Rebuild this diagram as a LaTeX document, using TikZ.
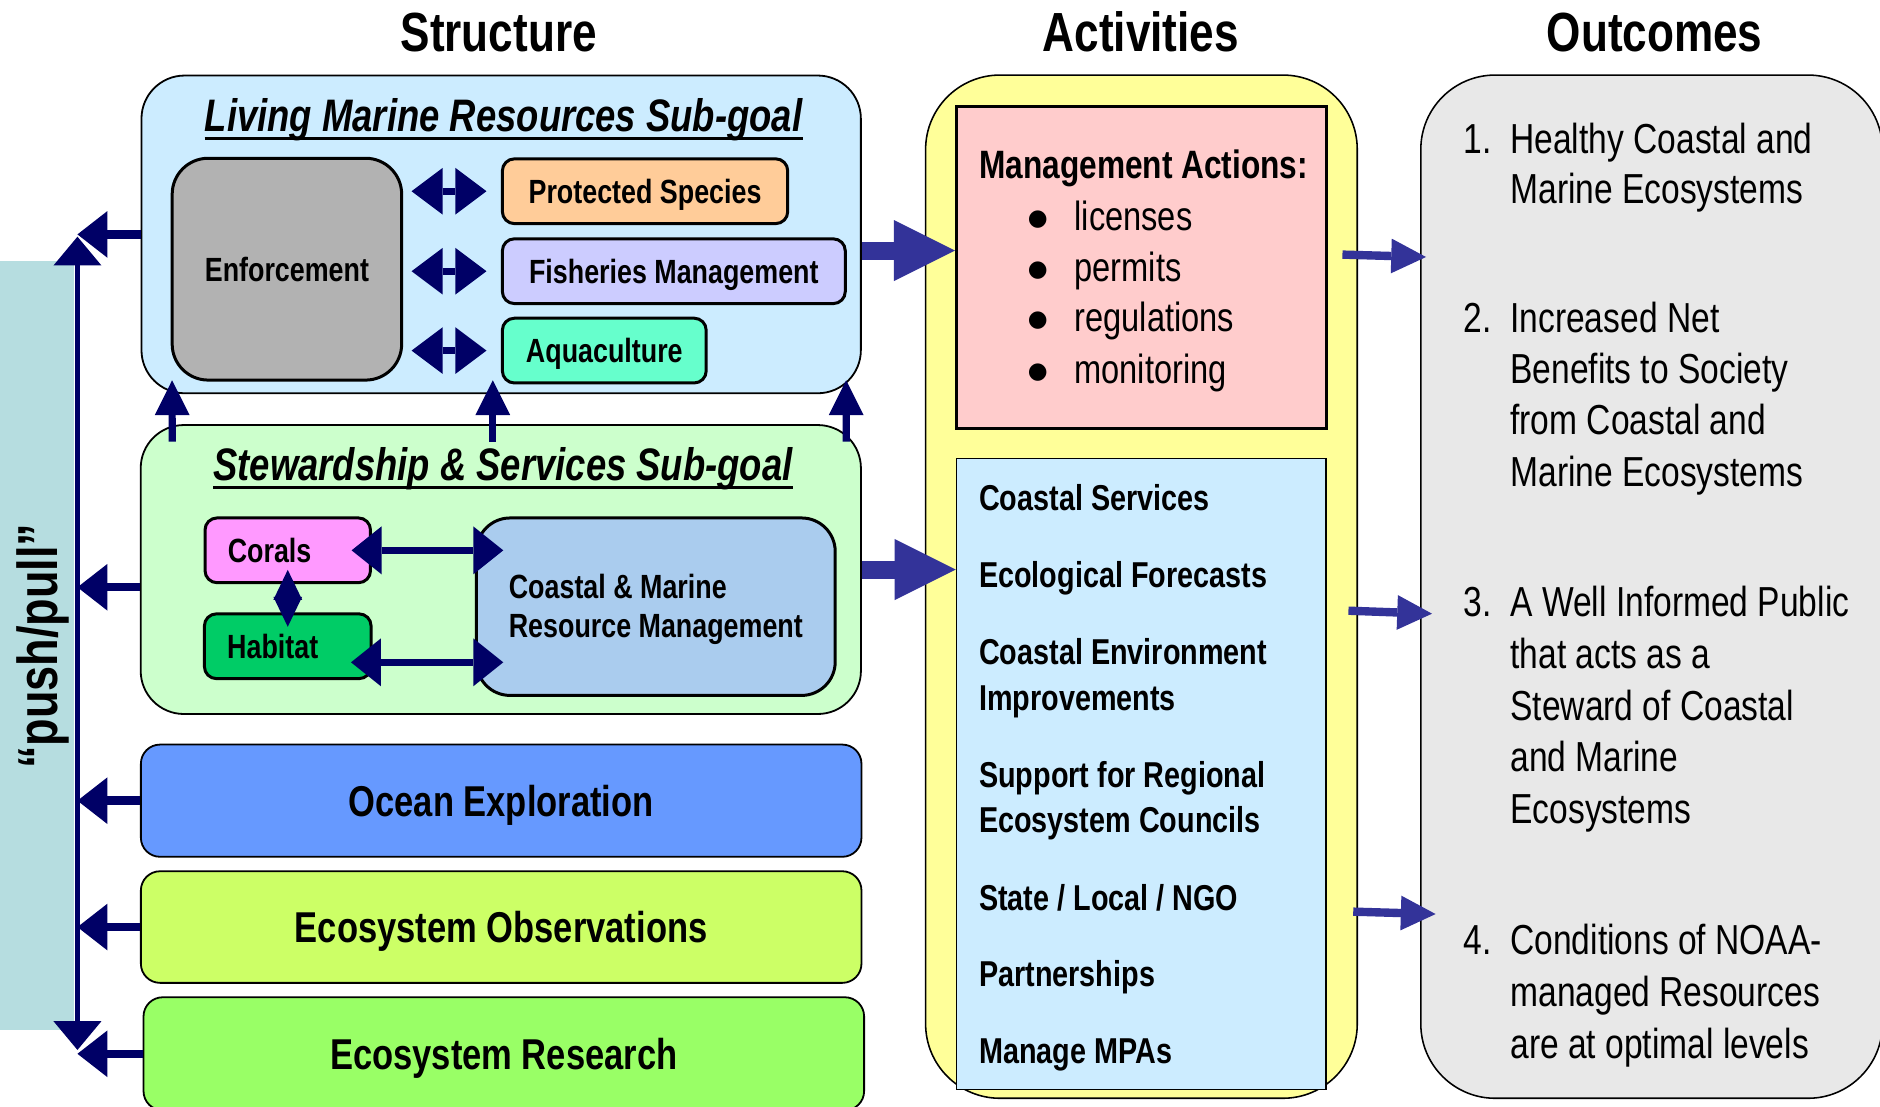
\documentclass[tikz,border=0pt]{standalone}
\usepackage{fontspec}
\setmainfont{Liberation Sans}[FakeStretch=0.8]
\newfontfamily\dotfont{DejaVu Sans}
\usetikzlibrary{arrows.meta}
\definecolor{navy}{HTML}{000066}
\definecolor{arrowblue}{HTML}{333399}
\definecolor{bandteal}{HTML}{B6DDE0}
\definecolor{lmrblue}{HTML}{CCECFF}
\definecolor{enfgray}{HTML}{B2B2B2}
\definecolor{peach}{HTML}{FFCC99}
\definecolor{lilac}{HTML}{CCCCFF}
\definecolor{aqua}{HTML}{66FFCC}
\definecolor{ssgreen}{HTML}{CCFFCC}
\definecolor{coralpink}{HTML}{FF99FF}
\definecolor{habgreen}{HTML}{00CC66}
\definecolor{steel}{HTML}{AACCEE}
\definecolor{oceanblue}{HTML}{6699FF}
\definecolor{obslime}{HTML}{CCFF66}
\definecolor{resgreen}{HTML}{99FF66}
\definecolor{actyellow}{HTML}{FFFF99}
\definecolor{mapink}{HTML}{FFCCCC}
\definecolor{outgray}{HTML}{E8E8E8}
\newcommand{\sztitle}{\fontsize{46}{55}\selectfont\bfseries}
\newcommand{\szpush}{\fontsize{47}{56}\selectfont\bfseries}
\newcommand{\szgoal}{\fontsize{38}{46}\selectfont\bfseries\itshape}
\newcommand{\sztag}{\fontsize{28}{33}\selectfont\bfseries}
\newcommand{\szbar}{\fontsize{36}{43}\selectfont\bfseries}
\newcommand{\szhead}{\fontsize{33}{40}\selectfont\bfseries}
\newcommand{\szitem}{\fontsize{30}{36}\selectfont\bfseries}
\newcommand{\szbody}{\fontsize{34}{41}\selectfont}
\newcommand{\szout}{\fontsize{35}{43}\selectfont}
\newcommand{\bul}{\makebox[39pt][l]{\raisebox{4pt}{\dotfont\fontsize{19}{19}\selectfont ●}}}
\newcommand{\num}[1]{\makebox[38.9pt][l]{#1}}
\tikzstyle{txt}=[inner sep=0pt, anchor=base west]
\tikzstyle{uline}=[draw=black, line width=2.8pt]
\tikzstyle{band}=[fill=bandteal, inner sep=0pt]
\tikzstyle{panel}=[draw=black, line width=1.5pt, rounded corners=36pt, inner sep=0pt]
\tikzstyle{block}=[draw=black, line width=2.5pt, inner sep=0pt, font=\sztag]
\tikzstyle{tag}=[block, rounded corners=10pt, minimum height=54pt, text height=20pt, text depth=0pt]
\tikzstyle{bar}=[draw=black, line width=1.5pt, rounded corners=16pt, inner sep=0pt, minimum width=601pt, font=\szbar, text height=25.8pt, text depth=0pt]
\tikzstyle{column}=[draw=black, line width=1.3pt, rounded corners=62pt, inner sep=0pt, minimum height=853.4pt]
\tikzstyle{sheet}=[draw=black, inner sep=0pt, minimum width=308.3pt]
\tikzstyle{pushpull}=[{Triangle[length=24pt,width=40pt,line width=0pt]}-{Triangle[length=24pt,width=40pt,line width=0pt]}, draw=navy, line width=3.5pt]
\tikzstyle{toline}=[-{Triangle[length=25pt,width=39pt,line width=0pt]}, draw=navy, line width=7pt]
\tikzstyle{both}=[{Triangle[length=26pt,width=39pt,line width=0pt]}-{Triangle[length=26pt,width=39pt,line width=0pt]}, draw=navy, line width=5.6pt]
\tikzstyle{twin}=[{Triangle[length=25pt,width=40pt,line width=0pt]}-{Triangle[length=25pt,width=40pt,line width=0pt]}, draw=navy, line width=5.6pt]
\tikzstyle{twinv}=[{Triangle[length=25pt,width=24pt,line width=0pt]}-{Triangle[length=25pt,width=24pt,line width=0pt]}, draw=navy, line width=5pt]
\tikzstyle{upward}=[-{Triangle[length=29pt,width=29pt,line width=0pt]}, draw=navy, line width=6pt]
\tikzstyle{feed}=[-{Triangle[length=51pt,width=51pt,line width=0pt]}, draw=arrowblue, line width=15pt]
\tikzstyle{result}=[-{Triangle[length=29pt,width=29pt,line width=0pt]}, draw=arrowblue, line width=7pt]

\begin{document}
\begin{tikzpicture}[x=1pt,y=-1pt]
  \clip (0,0) rectangle (1568,923);
  % column titles
  \node [style=txt, anchor=base, font=\sztitle] (structure) at (416,43) {Structure};
  \node [style=txt, anchor=base, font=\sztitle] (activities) at (951.5,43) {Activities};
  \node [style=txt, anchor=base, font=\sztitle] (outcomes) at (1380,43) {Outcomes};

  % push/pull band
  \node [style=band, minimum width=62pt, minimum height=641pt] (pp) at (31,538.5) {};
  \node [style=txt, anchor=center, rotate=90, font=\szpush] (pplabel) at (36,539) {“push/pull”};
  \coordinate (pptop) at (64.6,197.4);
  \coordinate (ppbot) at (64.6,875.7);

  % living marine resources
  \node [style=panel, fill=lmrblue, minimum width=600pt, minimum height=265pt] (lmr) at (418,195.5) {};
  \node [style=txt, anchor=base, font=\szgoal] (lmrtitle) at (420,109.8) {Living Marine Resources Sub-goal};
  \draw [style=uline] ([yshift=-5.6pt]lmrtitle.base west) to ([yshift=-5.6pt]lmrtitle.base east);
  \node [style=block, fill=enfgray, rounded corners=30pt, minimum width=191.4pt, minimum height=185pt, text height=20pt, text depth=0pt] (enf) at (239.3,224.5) {Enforcement};
  \node [style=tag, fill=peach, minimum width=238pt] (ps) at (538,159.5) {Protected Species};
  \node [style=tag, fill=lilac, minimum width=286pt] (fm) at (562,226.2) {Fisheries Management};
  \node [style=tag, fill=aqua, minimum width=170pt] (aq) at (504,292.4) {Aquaculture};

  % stewardship and services
  \node [style=panel, fill=ssgreen, minimum width=600.7pt, minimum height=241pt] (ss) at (417.7,475) {};
  \node [style=txt, anchor=base, font=\szgoal] (sstitle) at (419.5,400.9) {Stewardship \& Services Sub-goal};
  \draw [style=uline] ([yshift=-5.6pt]sstitle.base west) to ([yshift=-5.6pt]sstitle.base east);
  \node [style=tag, fill=coralpink, inner xsep=19pt, text width=100pt, align=left] (cor) at (240,459) {Corals};
  \node [style=tag, fill=habgreen, inner xsep=19pt, text width=101pt, align=left] (hab) at (240,539) {Habitat};
  \node [style=block, fill=steel, rounded corners=28pt, minimum width=299.2pt, minimum height=148pt] (cmrm) at (547,506) {\raisebox{0pt}[52pt][0pt]{\begin{tabular}[b]{@{}l@{}}Coastal \& Marine\\Resource Management\end{tabular}}};

  % lower bars
  \node [style=bar, fill=oceanblue, minimum height=93.6pt] (oe) at (418,667.8) {Ocean Exploration};
  \node [style=bar, fill=obslime, minimum height=93.1pt] (eo) at (418,773.2) {Ecosystem Observations};
  \node [style=bar, fill=resgreen, minimum height=94.3pt] (er) at (420.2,878.9) {Ecosystem Research};

  % activities
  \node [style=column, fill=actyellow, minimum width=360pt] (act) at (952,489.3) {};
  \node [style=sheet, fill=mapink, line width=2.5pt, minimum height=268.1pt] (mab) at (951.9,223) {};
  \node [style=sheet, fill=lmrblue, line width=1.2pt, minimum height=526.6pt] (svc) at (951.9,645.6) {};
  \node [style=txt, font=\szhead] (mahead) at (816.5,148.6) {Management Actions:};
  \node [style=txt, font=\szbody] (li1) at (857,192) {\bul licenses};
  \node [style=txt, font=\szbody] (li2) at (857,235) {\bul permits};
  \node [style=txt, font=\szbody] (li3) at (857,276.6) {\bul regulations};
  \node [style=txt, font=\szbody] (li4) at (857,319.7) {\bul monitoring};
  \node [style=txt, font=\szitem] (sv1) at (816.5,426) {Coastal Services};
  \node [style=txt, font=\szitem] (sv2) at (816.5,490) {Ecological Forecasts};
  \node [style=txt, font=\szitem] (sv3) at (816.5,554.2) {Coastal Environment};
  \node [style=txt, font=\szitem] (sv3b) at (816.5,592.4) {Improvements};
  \node [style=txt, font=\szitem] (sv4) at (816.5,656.6) {Support for Regional};
  \node [style=txt, font=\szitem] (sv4b) at (816.5,694.7) {Ecosystem Councils};
  \node [style=txt, font=\szitem] (sv5) at (816.5,759) {State / Local / NGO};
  \node [style=txt, font=\szitem] (sv6) at (816.5,823.1) {Partnerships};
  \node [style=txt, font=\szitem] (sv7) at (816.5,887.3) {Manage MPAs};

  % outcomes
  \node [style=column, fill=outgray, minimum width=385pt] (out) at (1377.5,489.3) {};
  \node [style=txt, font=\szout] (oc1) at (1220.6,127.9) {\num{1.}Healthy Coastal and};
  \node [style=txt, font=\szout] (oc1b) at (1259.5,169.6) {Marine Ecosystems};
  \node [style=txt, font=\szout] (oc2) at (1220.6,277.5) {\num{2.}Increased Net};
  \node [style=txt, font=\szout] (oc2b) at (1259.5,319.7) {Benefits to Society};
  \node [style=txt, font=\szout] (oc2c) at (1259.5,362.8) {from Coastal and};
  \node [style=txt, font=\szout] (oc2d) at (1259.5,405.9) {Marine Ecosystems};
  \node [style=txt, font=\szout] (oc3) at (1220.6,514.5) {\num{3.}A Well Informed Public};
  \node [style=txt, font=\szout] (oc3b) at (1259.5,557.3) {that acts as a};
  \node [style=txt, font=\szout] (oc3c) at (1259.5,600.7) {Steward of Coastal};
  \node [style=txt, font=\szout] (oc3d) at (1259.5,643.5) {and Marine};
  \node [style=txt, font=\szout] (oc3e) at (1259.5,686.6) {Ecosystems};
  \node [style=txt, font=\szout] (oc4) at (1220.6,796.5) {\num{4.}Conditions of NOAA-};
  \node [style=txt, font=\szout] (oc4b) at (1259.5,839.3) {managed Resources};
  \node [style=txt, font=\szout] (oc4c) at (1259.5,882.7) {are at optimal levels};

  % connectors
  \coordinate (ssw) at ([yshift=-14.8pt]ss.west);
  \coordinate (habe) at ([yshift=-13.4pt]hab.east);
  \draw [style=pushpull] (ppbot) to (pptop);
  \draw [style=toline] (lmr.west) to (lmr.west -| pptop);
  \draw [style=toline] (ssw) to (ssw -| pptop);
  \draw [style=toline] (oe.west) to (oe.west -| pptop);
  \draw [style=toline] (eo.west) to (eo.west -| pptop);
  \draw [style=toline] (er.west) to (er.west -| pptop);
  \draw [style=both, shorten <=7pt, shorten >=12pt] (enf.east |- ps.west) to (ps.west);
  \draw [style=both, shorten <=7pt, shorten >=12pt] (enf.east |- fm.west) to (fm.west);
  \draw [style=both, shorten <=7pt, shorten >=12pt] (enf.east |- aq.west) to (aq.west);
  \draw [style=twin, shorten <=-17pt, shorten >=-23.6pt] (cor.east) to (cor.east -| cmrm.west);
  \draw [style=twin, shorten <=-18pt, shorten >=-23.6pt] (habe) to (habe -| cmrm.west);
  \draw [style=twinv] ([yshift=12pt]cor.south) to ([yshift=-12pt]hab.north);
  \draw [style=upward] ([shift={(27,14.5)}]ss.north west) to ([shift={(26.3,-11.6)}]lmr.south west);
  \draw [style=upward] ([shift={(-6.7,14.5)}]ss.north) to ([shift={(-7,-11.6)}]lmr.south);
  \draw [style=upward] ([shift={(-13,14.5)}]ss.north east) to ([shift={(-13,-11.6)}]lmr.south east);
  \draw [style=feed] ([yshift=-13.5pt]lmr.east) to ([yshift=14pt]mab.west);
  \draw [style=feed] (ss.east) to (ss.east -| svc.west);
  \draw [style=result] ([shift={(-13,150.4)}]act.north east) to ([shift={(5,152.4)}]out.north west);
  \draw [style=result] ([shift={(-8,447.4)}]act.north east) to ([shift={(10,449.9)}]out.north west);
  \draw [style=result] ([shift={(-4,698.4)}]act.north east) to ([shift={(13,700.4)}]out.north west);
\end{tikzpicture}
\end{document}
